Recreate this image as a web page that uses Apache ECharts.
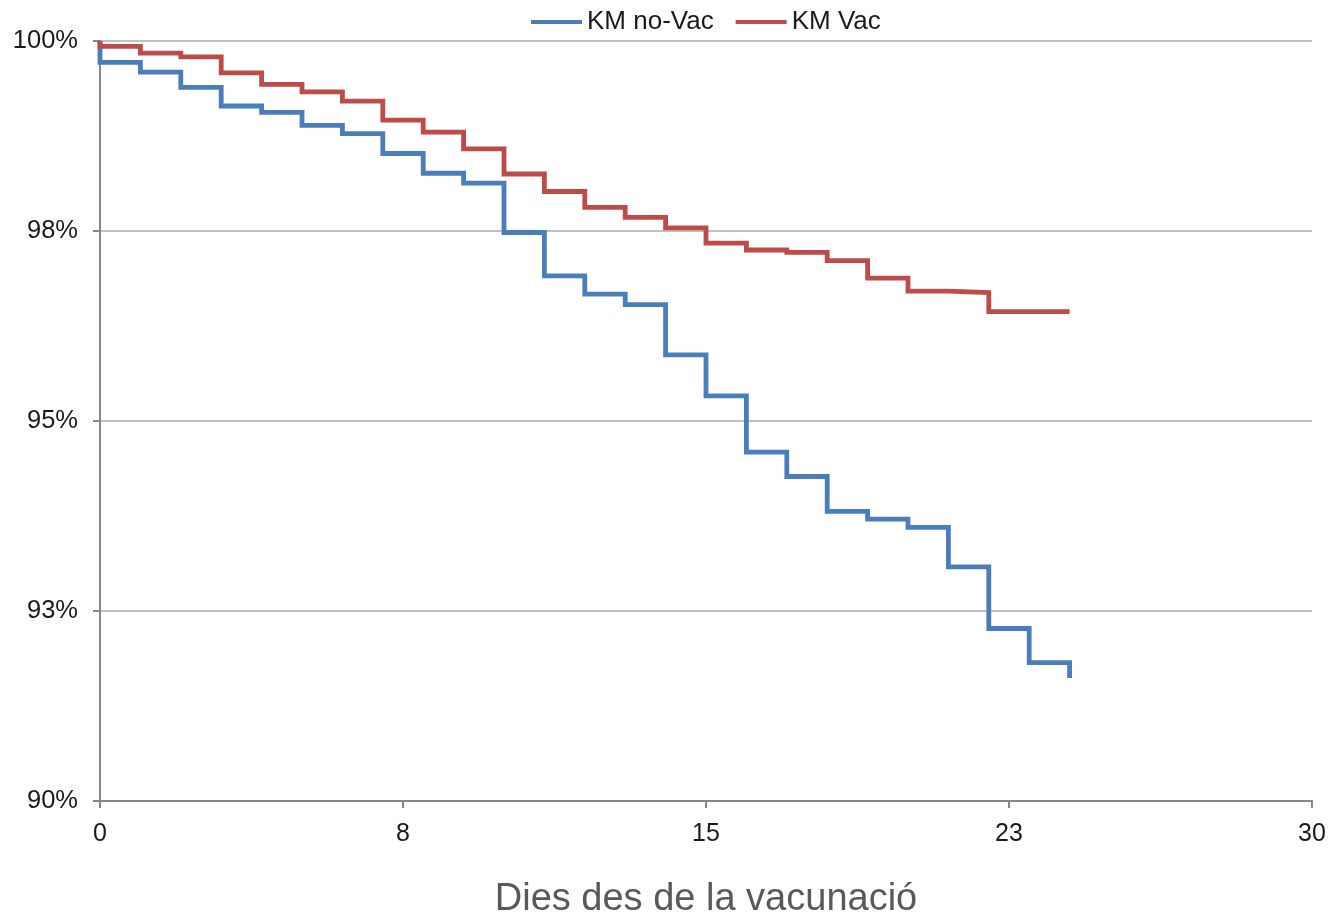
<!DOCTYPE html>
<html>
<head>
<meta charset="utf-8">
<script src="https://cdn.jsdelivr.net/npm/echarts@6/dist/echarts.min.js"></script>
<style>
  html, body { margin: 0; padding: 0; background: #ffffff; }
  #chart { width: 1332px; height: 916px; }
</style>
</head>
<body>
<div id="chart"></div>
<script>
// Days since vaccination (survival level S(t) after events at day t)
var days = [0, 1, 2, 3, 4, 5, 6, 7, 8, 9, 10, 11, 12, 13, 14, 15, 16, 17, 18, 19, 20, 21, 22, 23, 24];
var startValue = 100;
// KM no-Vac survival (%)
var noVac = [99.72, 99.59, 99.39, 99.145, 99.06, 98.89, 98.78, 98.52, 98.26, 98.13,
             97.48, 96.91, 96.67, 96.53, 95.87, 95.33, 94.59, 94.27, 93.81, 93.71,
             93.60, 93.08, 92.27, 91.82, 91.62];
// KM Vac survival (%)
var vac = [99.93, 99.84, 99.79, 99.58, 99.43, 99.33, 99.21, 98.96, 98.80, 98.58,
           98.25, 98.02, 97.81, 97.68, 97.54, 97.34, 97.25, 97.22, 97.11, 96.88,
           96.71, 96.69, 96.44, 96.44, 96.44];
var seriesNames = ['KM no-Vac', 'KM Vac'];
var xTickValues = [0, 7.5, 15, 22.5, 30];
var xTickLabels = ['0', '8', '15', '23', '30'];
var yTickValues = [90, 92.5, 95, 97.5, 100];
var yTickLabels = ['90%', '93%', '95%', '98%', '100%'];
var xTitle = 'Dies des de la vacunació';

function buildSteps(vals) {
  var pts = [[days[0], startValue]];
  for (var i = 0; i < days.length; i++) pts.push([days[i], vals[i]]);
  return pts;
}

var FONT = "'Liberation Sans', Arial, sans-serif";
var chart = echarts.init(document.getElementById('chart'), null, { renderer: 'canvas' });
chart.setOption({
  animation: false,
  backgroundColor: '#ffffff',
  grid: { left: 100, right: 20, top: 41, bottom: 115, containLabel: false, outerBoundsMode: 'none' },
  legend: {
    data: seriesNames,
    left: 526,
    top: 4,
    icon: 'rect',
    itemWidth: 51,
    itemHeight: 4,
    itemGap: 22,
    textStyle: { fontFamily: FONT, fontSize: 26, color: '#1a1a1a', lineHeight: 26 }
  },
  xAxis: {
    type: 'value',
    min: 0, max: 30, interval: 7.5,
    name: xTitle,
    nameLocation: 'middle',
    nameGap: 80,
    nameTextStyle: { fontFamily: FONT, fontSize: 38, color: '#595959' },
    axisLine: { show: true, lineStyle: { color: '#878787', width: 2 } },
    axisTick: { show: true, length: 7, lineStyle: { color: '#878787', width: 2 } },
    splitLine: { show: false },
    axisLabel: {
      margin: 21,
      fontFamily: FONT, fontSize: 25, color: '#1a1a1a',
      formatter: function (v) { var i = xTickValues.indexOf(v); return i >= 0 ? xTickLabels[i] : ''; }
    }
  },
  yAxis: {
    type: 'value',
    min: 90, max: 100, interval: 2.5,
    axisLine: { show: true, lineStyle: { color: '#878787', width: 2 } },
    axisTick: { show: true, length: 7, lineStyle: { color: '#878787', width: 2 } },
    splitLine: { show: true, lineStyle: { color: '#c0c0c0', width: 2 } },
    axisLabel: {
      margin: 22,
      fontFamily: FONT, fontSize: 25.5, color: '#1a1a1a',
      formatter: function (v) { var i = yTickValues.indexOf(v); return i >= 0 ? yTickLabels[i] : ''; }
    }
  },
  series: [
    {
      name: seriesNames[0], type: 'line', step: 'end', symbol: 'none', clip: false,
      data: buildSteps(noVac),
      itemStyle: { color: '#4a7ebb' },
      lineStyle: { color: '#4a7ebb', width: 4.8, cap: 'butt', join: 'miter' }
    },
    {
      name: seriesNames[1], type: 'line', step: 'end', symbol: 'none', clip: false,
      data: buildSteps(vac),
      itemStyle: { color: '#be4b48' },
      lineStyle: { color: '#be4b48', width: 4.8, cap: 'butt', join: 'miter' }
    }
  ]
});
</script>
</body>
</html>
